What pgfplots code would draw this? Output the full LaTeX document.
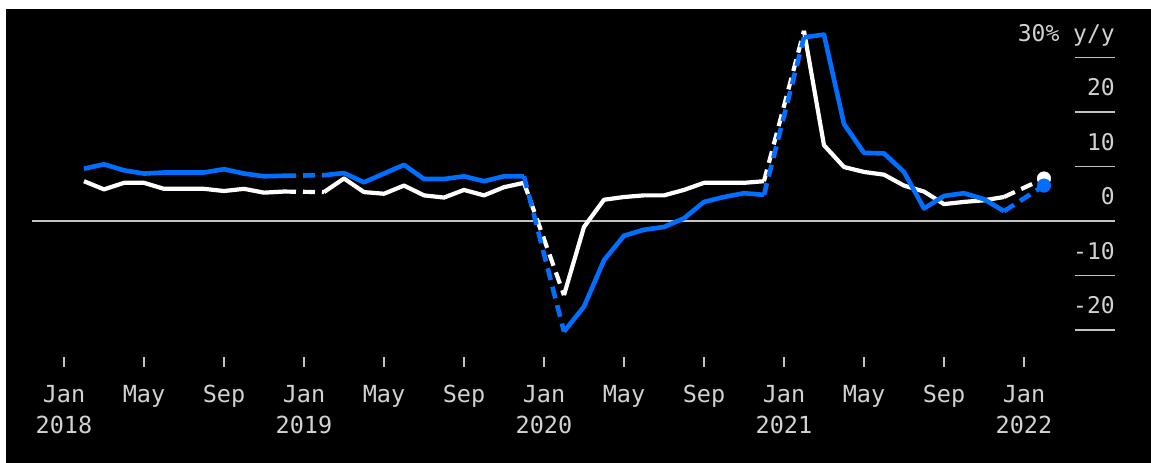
\documentclass[border=0pt]{standalone}
\usepackage{pgfplots}
\pgfplotsset{compat=1.18}
\usepackage{pgfplotstable}
\usepackage{fontspec}
\setmainfont{DejaVu Sans Mono}
\definecolor{bblue}{RGB}{0,110,255}
\definecolor{lbl}{RGB}{210,210,210}
\definecolor{tickc}{RGB}{195,195,195}
\pgfplotstableread{
m white blue
1 7.3 9.6
2 5.8 10.4
3 7.0 9.3
4 7.0 8.7
5 5.9 8.9
6 5.9 8.9
7 5.9 8.9
8 5.5 9.5
9 5.9 8.7
10 5.2 8.2
11 5.4 8.3
12 nan nan
13 5.3 8.4
14 7.8 8.8
15 5.3 7.1
16 5.0 8.7
17 6.5 10.3
18 4.7 7.7
19 4.3 7.7
20 5.7 8.2
21 4.7 7.3
22 6.2 8.2
23 7.0 8.2
24 nan nan
25 -13.6 -20.3
26 -1.1 -15.7
27 3.9 -7.2
28 4.4 -2.7
29 4.7 -1.6
30 4.7 -1.1
31 5.7 0.5
32 7.0 3.5
33 7.0 4.4
34 7.0 5.1
35 7.3 4.8
36 nan nan
37 34.9 33.7
38 13.9 34.2
39 9.9 17.8
40 9.0 12.5
41 8.5 12.4
42 6.5 9.0
43 5.4 2.3
44 3.1 4.6
45 3.5 5.1
46 3.8 4.0
47 4.4 1.8
48 nan nan
49 7.8 6.5
}\data
\begin{document}
\begin{tikzpicture}
\fill[white] (0,0) rectangle (1151bp,463bp);
\fill[black] (6bp,0) rectangle (1151bp,454bp);
\begin{axis}[
  at={(32bp,96bp)}, anchor=south west,
  scale only axis, width=1083bp, height=347.66bp,
  xmin=-1.6, xmax=52.55, ymin=-26.79, ymax=37,
  axis x line*=bottom, axis y line*=right,
  axis line style={draw=none},
  tick align=inside,
  xtick={0,4,...,48},
  xticklabels={{Jan\\2018},{May\\\mbox{}},{Sep\\\mbox{}},{Jan\\2019},{May\\\mbox{}},{Sep\\\mbox{}},{Jan\\2020},{May\\\mbox{}},{Sep\\\mbox{}},{Jan\\2021},{May\\\mbox{}},{Sep\\\mbox{}},{Jan\\2022}},
  xticklabel style={align=center, anchor=base, yshift=-66bp, inner sep=0pt, font=\fontsize{23.5bp}{31bp}\selectfont, text=lbl},
  ytick={-20,-10,0,10,20,30},
  yticklabels={-20,-10,0,10,20,{30\% y/y}},
  yticklabel style={anchor=base east, inner sep=0pt, yshift=16bp, font=\fontsize{23bp}{28bp}\selectfont, text=lbl},
  major tick length=10bp,
  xtick style={draw=tickc, line width=1.6bp},
  ytick style={draw=tickc, line width=1.6bp, /pgfplots/major tick length=40bp},
  extra y ticks={0}, extra y tick labels={},
  extra y tick style={grid=major, major grid style={draw=tickc, line width=1.4bp}},
  clip=false,
]
\addplot[white, line width=4.2bp, line join=round, unbounded coords=jump] table[x=m,y=white]{\data};
\addplot[white, line width=4.2bp, dash pattern=on 12bp off 7bp] coordinates {(11,5.4) (13,5.3)};
\addplot[white, line width=4.2bp, dash pattern=on 12bp off 7bp] coordinates {(23,7.0) (25,-13.6)};
\addplot[white, line width=4.2bp, dash pattern=on 12bp off 7bp] coordinates {(35,7.3) (37,34.9)};
\addplot[white, line width=4.2bp, dash pattern=on 12bp off 7bp] coordinates {(47,4.4) (49,7.8)};
\addplot[bblue, line width=4.6bp, line join=round, unbounded coords=jump] table[x=m,y=blue]{\data};
\addplot[bblue, line width=4.6bp, dash pattern=on 12bp off 7bp] coordinates {(11,8.3) (13,8.4)};
\addplot[bblue, line width=4.6bp, dash pattern=on 12bp off 7bp] coordinates {(23,8.2) (25,-20.3)};
\addplot[bblue, line width=4.6bp, dash pattern=on 12bp off 7bp] coordinates {(35,4.8) (37,33.7)};
\addplot[bblue, line width=4.6bp, dash pattern=on 12bp off 7bp] coordinates {(47,1.8) (49,6.5)};
\addplot[only marks, mark=*, mark size=6.8bp, white] coordinates {(49,7.8)};
\addplot[only marks, mark=*, mark size=6.8bp, bblue] coordinates {(49,6.5)};
\end{axis}
\pgfresetboundingbox
\useasboundingbox (0,0) rectangle (1151bp,463bp);
\end{tikzpicture}
\end{document}
